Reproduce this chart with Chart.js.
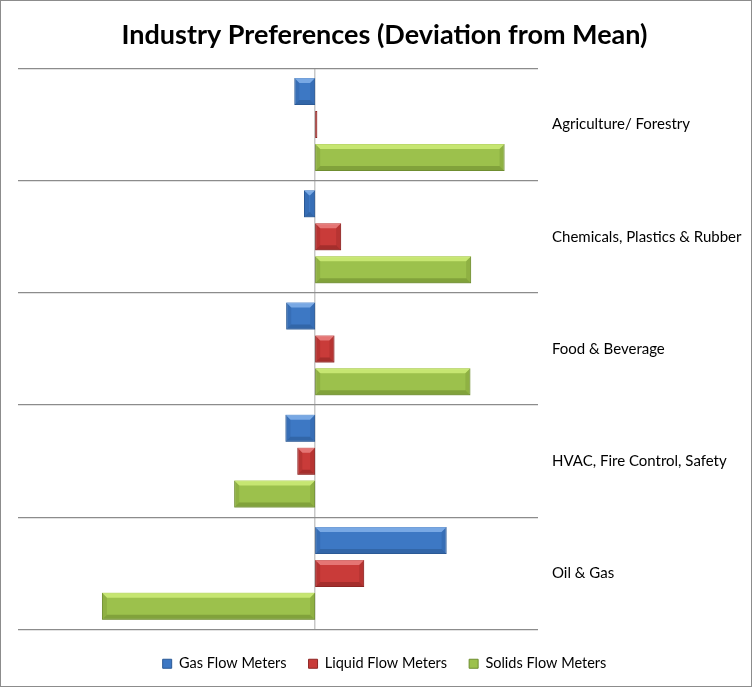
<!DOCTYPE html>
<html>
<head>
<meta charset="utf-8">
<script src="https://cdn.jsdelivr.net/npm/chart.js@4"></script>
<style>
  html, body { margin: 0; padding: 0; background: #fff; }
  #wrap { width: 750px; height: 685px; border: 1px solid #8c8c8c; }
</style>
</head>
<body>
<div id="wrap"><canvas id="chart" width="750" height="685"></canvas></div>
<script>
const categories = ['Agriculture/ Forestry', 'Chemicals, Plastics & Rubber', 'Food & Beverage', 'HVAC, Fire Control, Safety', 'Oil & Gas'];
const gasValues = [-0.028, -0.015, -0.039, -0.040, 0.177];
const liquidValues = [0.003, 0.035, 0.026, -0.024, 0.066];
const solidsValues = [0.255, 0.210, 0.209, -0.109, -0.287];
const seriesNames = ['Gas Flow Meters', 'Liquid Flow Meters', 'Solids Flow Meters'];

const fills = ['#3d78c4', '#c93b39', '#9cc14c'];
const edges = ['#2b5a96', '#8e2624', '#6f8e30'];
const lights = ['#8cb8ef', '#ee8a88', '#d4f27e'];

// bevel look like the old office charts
const bevel = {
    id: 'bevel',
    afterDatasetsDraw(chart) {
        const ctx = chart.ctx;
        chart.data.datasets.forEach((ds, i) => {
            const meta = chart.getDatasetMeta(i);
            meta.data.forEach(bar => {
                const p = bar.getProps(['x', 'y', 'base', 'height'], true);
                const l = Math.min(p.x, p.base), r = Math.max(p.x, p.base);
                const t = p.y - p.height / 2, b = p.y + p.height / 2;
                const w = r - l;
                if (w < 3) return;
                const e = Math.min(5, w / 2);
                ctx.save();
                ctx.fillStyle = lights[i];
                ctx.globalAlpha = 0.75;
                ctx.beginPath();
                ctx.moveTo(l, t); ctx.lineTo(r, t); ctx.lineTo(r - e, t + 5); ctx.lineTo(l + e, t + 5); ctx.closePath();
                ctx.fill();
                ctx.fillStyle = edges[i];
                ctx.globalAlpha = 0.6;
                ctx.beginPath();
                ctx.moveTo(l, b); ctx.lineTo(r, b); ctx.lineTo(r - e, b - 5); ctx.lineTo(l + e, b - 5); ctx.closePath();
                ctx.fill();
                ctx.globalAlpha = 0.3;
                ctx.beginPath();
                ctx.moveTo(l, t); ctx.lineTo(l + e, t + 5); ctx.lineTo(l + e, b - 5); ctx.lineTo(l, b); ctx.closePath();
                ctx.fill();
                ctx.beginPath();
                ctx.moveTo(r, t); ctx.lineTo(r - e, t + 5); ctx.lineTo(r - e, b - 5); ctx.lineTo(r, b); ctx.closePath();
                ctx.fill();
                ctx.restore();
            });
        });
    }
};

const ctx = document.getElementById('chart').getContext('2d');
new Chart(ctx, {
    type: 'bar',
    data: {
        labels: categories,
        datasets: [gasValues, liquidValues, solidsValues].map((vals, i) => ({
            label: seriesNames[i],
            data: vals,
            backgroundColor: fills[i],
            borderColor: edges[i],
            borderWidth: 1,
            borderSkipped: false,
            categoryPercentage: 0.88,
            barPercentage: 0.82
        }))
    },
    options: {
        indexAxis: 'y',
        responsive: false,
        animation: false,
        layout: { padding: { left: 17, right: 0, top: 0, bottom: 5 } },
        scales: {
            x: {
                min: -0.4,
                max: 0.3,
                ticks: { display: false, stepSize: 0.1 },
                border: { display: false },
                grid: {
                    color: c => c.tick && Math.abs(c.tick.value) < 1e-9 ? '#c8c8c8' : 'rgba(0,0,0,0)',
                    lineWidth: 1.5,
                    drawTicks: false
                },
                afterFit: s => { s.height = 5; }
            },
            y: {
                position: 'right',
                ticks: {
                    color: '#000',
                    font: { family: 'Lato', size: 15 },
                    padding: 14,
                    crossAlign: 'near'
                },
                border: { display: false },
                grid: { color: '#8c8c8c', lineWidth: 1.2, offset: true, drawTicks: false },
                afterFit: s => { s.width = 213; }
            }
        },
        plugins: {
            title: {
                display: true,
                text: 'Industry Preferences (Deviation from Mean)',
                color: '#000',
                font: { family: 'Lato', size: 27, weight: 'bold' },
                padding: { top: 18, bottom: 17 }
            },
            legend: {
                position: 'bottom',
                labels: {
                    color: '#000',
                    font: { family: 'Lato', size: 14.5 },
                    boxWidth: 9,
                    boxHeight: 9,
                    padding: 22
                }
            },
            tooltip: { enabled: false }
        }
    },
    plugins: [bevel]
});
</script>
</body>
</html>
